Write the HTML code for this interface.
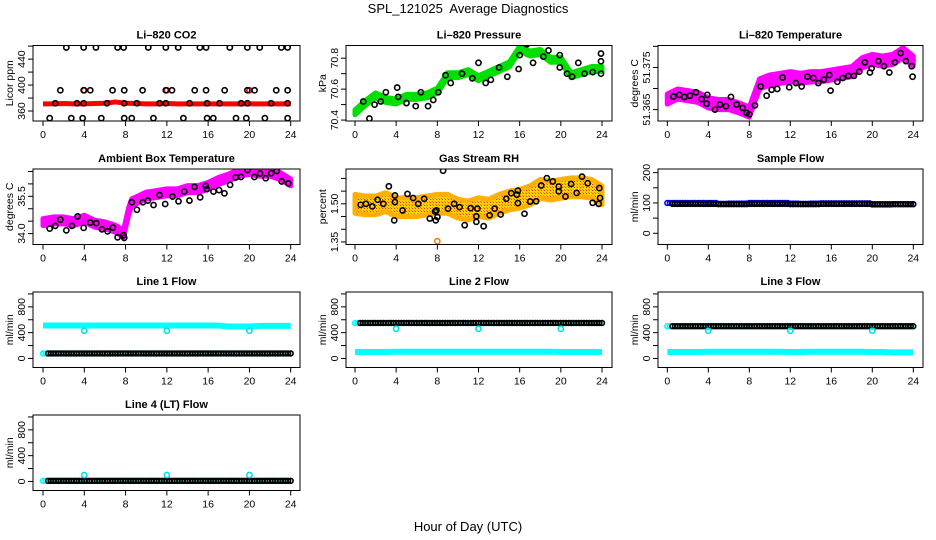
<!DOCTYPE html>
<html><head><meta charset="utf-8"><style>
html,body{margin:0;padding:0;background:#fff}
svg{display:block;font-family:"Liberation Sans",sans-serif}
</style></head><body>
<svg id="chart" width="936" height="540" viewBox="0 0 936 540" xmlns="http://www.w3.org/2000/svg">
<defs>
<pattern id="pGreen" width="3" height="3" patternUnits="userSpaceOnUse"><rect width="3" height="3" fill="#00e000"/><rect x="1" y="1" width="1" height="1" fill="#004400"/></pattern>
<pattern id="pRH" width="3" height="3" patternUnits="userSpaceOnUse"><rect width="3" height="3" fill="#ffd400"/><rect x="1" y="1" width="1" height="1" fill="#ff2a00"/><rect x="0" y="0" width="1" height="1" fill="#ff8000"/></pattern>
</defs>
<text x="468" y="13" font-size="13" text-anchor="middle" style="white-space:pre" xml:space="preserve">SPL_121025  Average Diagnostics</text>
<text x="468" y="531" font-size="13" text-anchor="middle">Hour of Day (UTC)</text>
<g id="plots"></g>
</svg>
<script>
// ---------- data ----------
const xTicks = [0,4,8,12,16,20,24];
const hours = [0,1,2,3,4,5,6,7,8,9,10,11,12,13,14,15,16,17,18,19,20,21,22,23,24];

// CO2
const co2Red = [371,371,371.5,371,371,371.5,372,374,372,371.5,371,371,371.5,371,371,371,371,371,371,371,371,371,371,371,371];
const co2TopT = [2.26,3.94,5.13,7.23,7.81,10.2,11.9,13.1,15.2,15.8,18.1,19.8,21.0,23.1,23.7];
const co2MidT = [1.68,3.94,4.58,6.74,7.87,9.65,11.9,12.5,14.7,15.8,17.6,19.8,20.5,22.6,23.7];
const co2LowT = [0.65,2.74,3.84,5.65,7.87,8.6,10.7,13.6,15.9,16.5,18.7,19.7,21.5,23.7];
const co2CenT = [1.19,3.29,3.94,6.19,7.87,9.1,11.3,11.9,14.2,15.9,17.1,19.2,19.8,22.1,23.7];
const co2Levels = [458,392,349,372];

// Pressure
const presBand = [70.45,70.51,70.56,70.53,70.52,70.55,70.55,70.56,70.59,70.69,70.69,70.71,70.67,70.70,70.73,70.76,70.86,70.83,70.84,70.79,70.79,70.69,70.71,70.73,70.73];
const presT = [0.8,1.4,1.9,2.5,3.0,4.1,4.2,5.0,5.9,6.4,7.1,7.6,8.1,8.8,9.3,10.4,11.4,12.0,12.7,13.2,14.0,14.8,15.9,16.0,16.7,17.3,18.3,18.8,19.9,19.9,20.6,21.1,21.7,22.3,23.1,23.9,23.9,23.9];
const presV = [70.52,70.41,70.50,70.52,70.58,70.61,70.55,70.51,70.49,70.58,70.49,70.53,70.58,70.69,70.64,70.70,70.67,70.77,70.64,70.66,70.74,70.68,70.73,70.82,70.89,70.77,70.81,70.85,70.82,70.74,70.70,70.68,70.77,70.70,70.71,70.83,70.78,70.70];

// Li-820 temperature
const tempBand = [51.3675,51.3687,51.3683,51.3679,51.3666,51.3662,51.3662,51.3654,51.3644,51.3711,51.3720,51.3724,51.3728,51.3724,51.3728,51.3728,51.3732,51.3736,51.3740,51.3761,51.3769,51.3765,51.3769,51.3785,51.3765];
const tempT = [0.59,1.17,1.66,2.21,2.80,3.35,3.84,3.90,4.65,5.14,5.72,6.21,6.76,7.35,7.74,8.00,8.55,9.11,9.69,10.18,10.73,11.25,11.90,12.55,13.11,13.66,14.24,14.73,15.28,15.80,15.93,16.59,17.11,17.66,18.21,18.73,19.28,19.77,19.93,20.59,21.14,21.66,22.21,22.76,23.28,23.84,23.93];
const tempV = [51.3681,51.3685,51.3680,51.3683,51.3691,51.3675,51.3664,51.3685,51.3650,51.3662,51.3658,51.3680,51.3662,51.3654,51.3642,51.3639,51.3660,51.3705,51.3683,51.3697,51.3699,51.3726,51.3703,51.3713,51.3705,51.3728,51.3725,51.3713,51.3721,51.3732,51.3695,51.3716,51.3725,51.3730,51.3730,51.3740,51.3762,51.3738,51.3748,51.3765,51.3753,51.3738,51.3762,51.3784,51.3765,51.3753,51.3728];

// Ambient box temperature
const ambBandT = [0,1,2,3,4,5,6,7,7.8,8.3,8.6,9,10,11,12,13,14,15,16,17,18,19,20,21,22,23,24];
const ambBand = [34.46,34.53,34.53,34.46,34.60,34.40,34.33,34.20,34.00,34.9,35.26,35.33,35.53,35.59,35.66,35.66,35.79,35.79,35.92,36.12,36.26,36.45,36.52,36.45,36.45,36.32,36.06];
const ambT = [0.65,1.19,1.68,2.26,2.81,3.35,3.94,4.58,5.16,5.71,6.26,6.77,7.23,7.81,7.87,8.61,9.10,9.68,10.16,10.71,11.29,11.84,12.55,13.13,13.68,14.19,14.68,15.23,15.77,15.87,16.52,17.06,17.58,18.13,18.68,19.19,19.81,20.48,21.03,21.58,22.10,22.65,23.13,23.77];
const ambV = [34.20,34.31,34.56,34.13,34.31,34.69,34.23,34.44,34.42,34.17,34.09,34.24,33.85,33.93,33.83,35.26,34.96,35.26,35.33,35.15,35.55,35.19,35.49,35.30,35.69,35.33,35.88,35.46,35.92,35.79,35.69,35.75,35.62,35.96,36.26,36.28,36.56,36.28,36.42,36.23,36.43,36.52,36.10,36.02];

// Gas stream RH
const rhBand = [1.500,1.494,1.494,1.507,1.487,1.487,1.487,1.494,1.500,1.500,1.481,1.474,1.487,1.481,1.500,1.513,1.520,1.533,1.559,1.552,1.559,1.565,1.565,1.559,1.533];
const rhT = [0.55,1.07,1.68,2.20,2.75,3.29,3.88,3.88,3.81,4.62,5.10,5.65,6.14,6.72,7.27,7.78,7.85,7.91,8.01,9.04,9.63,10.17,10.66,11.24,11.79,11.79,11.89,12.50,13.08,13.57,14.15,14.70,15.18,15.73,15.83,15.83,16.47,17.02,17.60,18.09,18.64,19.22,19.80,19.80,20.45,21.00,21.54,22.06,22.61,23.09,23.68,23.74,23.81,8.56];
const rhV = [1.496,1.500,1.490,1.516,1.500,1.569,1.533,1.507,1.435,1.474,1.539,1.523,1.500,1.520,1.442,1.470,1.435,1.474,1.448,1.481,1.500,1.487,1.416,1.483,1.451,1.429,1.481,1.412,1.455,1.481,1.458,1.520,1.542,1.536,1.552,1.503,1.461,1.509,1.510,1.572,1.601,1.588,1.568,1.549,1.529,1.578,1.543,1.607,1.581,1.504,1.500,1.562,1.523,1.630];
const rhOutT = [8.0];
const rhOutV = [1.353];

// Flows
const sampleBlue = [100,100,100,100,100,97,98,98,100,100,100,100,98,97,98,99,99,99,99,99,95,95,96,96,96];
const sampleBlack = [97,97,97,97,97,96,96,96,97,97,97,97,96,96,96,97,97,97,97,97,96,96,96,96,96];
const flowDipT = [4,12,20];
const l1Cyan = [510,510,510,510,510,510,510,510,510,510,510,510,510,510,510,510,510,510,495,495,495,505,505,505,505];
const l1Black = [78,78,78,78,78,78,78,78,78,78,78,78,78,78,78,78,78,78,78,78,78,78,78,78,78];
const l1Dip = [430,430,430];
const l2Cyan = [100,100,100,100,105,105,105,105,105,105,105,105,105,105,105,105,105,105,105,105,100,100,100,100,100];
const l2Black = [550,550,550,550,550,550,550,550,550,550,550,550,550,550,550,550,550,550,550,550,550,550,550,550,550];
const l2Dip = [460,460,460];
const l3Cyan = [100,100,100,100,105,105,105,105,105,105,105,105,100,100,105,105,105,105,105,105,100,100,95,95,95];
const l3Black = [500,500,500,500,500,500,500,500,500,500,500,500,500,500,500,500,500,500,500,500,500,500,500,500,500];
const l3Dip = [430,430,430];
const l4Black = [10,10,10,10,10,10,10,10,10,10,10,10,10,10,10,10,10,10,10,10,10,10,10,10,10];
const l4Dip = [100,100,100];

// ---------- drawing ----------
const NS = 'http://www.w3.org/2000/svg';
const root = document.getElementById('plots');
const cols = [{l:33,r:300,x0:43,x24:290.7},{l:346,r:612,x0:355,x24:602},{l:658,r:923,x0:667.3,x24:913.3}];
const rows = [45.5,169,292,415];
const H = 75.5;

function mk(tag, attrs, parent){
  const e = document.createElementNS(NS, tag);
  for (const k in attrs) e.setAttribute(k, attrs[k]);
  (parent||root).appendChild(e);
  return e;
}

function panel(c, r, title, ylab, ylim, ticks, labels, dec, name){
  const col = cols[c], top = rows[r], bot = top + H;
  const g = mk('g', {});
  
  
  const sx = h => col.x0 + (col.x24 - col.x0) * h / 24;
  const sy = v => bot - (v - ylim[0]) / (ylim[1] - ylim[0]) * H;
  const clipId = 'clip' + c + r;
  const cp = mk('clipPath', {id: clipId}, g);
  mk('rect', {x: col.l, y: top, width: col.r - col.l, height: H}, cp);
  const plot = mk('g', {'clip-path': 'url(#' + clipId + ')'}, g);
  
  
  const box = mk('rect', {x: col.l, y: top, width: col.r - col.l, height: H, fill: 'none', stroke: '#000', 'stroke-width': 1}, g);
  
  
  const t = mk('text', {x: (col.l + col.r) / 2, y: top - 7, 'font-size': 11, 'font-weight': 'bold', 'text-anchor': 'middle'}, g);
  t.textContent = title;
  
  
  const yl = mk('text', {transform: 'translate(' + (col.l - 20) + ',' + (top + H / 2) + ') rotate(-90)', 'font-size': 10.5, 'text-anchor': 'middle'}, g);
  yl.textContent = ylab;
  
  
  ticks.forEach(v => {
    const y = sy(v);
    mk('line', {x1: col.l - 5, x2: col.l, y1: y, y2: y, stroke: '#000'}, g);
    if (labels.includes(v)) {
      const tl = mk('text', {transform: 'translate(' + (col.l - 8) + ',' + y + ') rotate(-90)', 'font-size': 10.5, 'text-anchor': 'middle'}, g);
      tl.textContent = v.toFixed(dec);
      
      
    }
  });
  xTicks.forEach(h => {
    const x = sx(h);
    mk('line', {x1: x, x2: x, y1: bot, y2: bot + 5, stroke: '#000'}, g);
    const tl = mk('text', {x: x, y: bot + 17, 'font-size': 10.5, 'text-anchor': 'middle'}, g);
    tl.textContent = String(h);
    
    
  });
  return {g: plot, sx, sy};
}

function pts(p, T, V, color, name, r, sw){
  T.forEach((t, i) => {
    const e = mk('circle', {cx: p.sx(t), cy: p.sy(V[i]), r: r || 2.6, fill: 'none', stroke: color, 'stroke-width': sw || 1.6}, p.g);
    
    
  });
}

function band(p, T, V, hw, fill, edge, name){
  let d = '';
  T.forEach((t, i) => d += (i ? 'L' : 'M') + p.sx(t) + ' ' + p.sy(V[i] + hw));
  for (let i = T.length - 1; i >= 0; i--) d += 'L' + p.sx(T[i]) + ' ' + p.sy(V[i] - hw);
  const e = mk('path', {d: d + 'Z', fill: fill, stroke: edge, 'stroke-width': 5, 'stroke-linejoin': 'round'}, p.g);
  
  
}

function dense(p, V, start, color, name){
  V.forEach((v, h) => {
    [0, 0.25, 0.5, 0.75].forEach(q => {
      const t = h + q;
      if (t < start || t > 24) return;
      const e = mk('circle', {cx: p.sx(t), cy: p.sy(v), r: 2.4, fill: 'none', stroke: color, 'stroke-width': 1.6}, p.g);
      
      
    });
  });
}

function thickLine(p, T, V, color, w, name){
  const d = T.map((t, i) => (i ? 'L' : 'M') + p.sx(t) + ' ' + p.sy(V[i])).join('');
  const e = mk('path', {d: d, fill: 'none', stroke: color, 'stroke-width': w, 'stroke-linejoin': 'round'}, p.g);
  
  
}

// CO2
let p = panel(0, 0, 'Li\u2013820 CO2', 'Licor ppm', [344.6, 461], [360,380,400,420,440,460], [360,400,440], 0, 'co2');
thickLine(p, hours, co2Red, '#ff0000', 5, 'co2-red-series');
pts(p, flowDipT, [392,392,392], '#ff0000', 'co2-red-point');
[co2TopT, co2MidT, co2LowT, co2CenT].forEach((T, k) => pts(p, T, T.map(() => co2Levels[k]), '#000', 'co2-black-point'));

// Pressure
p = panel(1, 0, 'Li\u2013820 Pressure', 'kPa', [70.394, 70.882], [70.4,70.5,70.6,70.7,70.8], [70.4,70.6,70.8], 1, 'pressure');
band(p, hours, presBand, 0.016, 'url(#pGreen)', '#00e000', 'pressure-green-series');
pts(p, presT, presV, '#000', 'pressure-black-point');

// Li-820 temperature
p = panel(2, 0, 'Li\u2013820 Temperature', 'degrees C', [51.3623, 51.3802], [51.365,51.37,51.375,51.38], [51.365,51.375], 3, 'li820-temp');
band(p, hours, tempBand, 0.0012, '#ff00ff', '#ff00ff', 'li820-temp-magenta-series');
pts(p, tempT, tempV, '#000', 'li820-temp-black-point');

// Ambient
p = panel(0, 1, 'Ambient Box Temperature', 'degrees C', [33.56, 36.6], [34,34.5,35,35.5,36,36.5], [34,35.5], 1, 'ambient-temp');
band(p, ambBandT, ambBand, 0.14, '#ff00ff', '#ff00ff', 'ambient-magenta-series');
pts(p, ambT, ambV, '#000', 'ambient-black-point');

// RH
p = panel(1, 1, 'Gas Stream RH', 'percent', [1.34, 1.637], [1.35,1.4,1.45,1.5,1.55,1.6], [1.35,1.5], 2, 'gas-rh');
band(p, hours, rhBand, 0.037, 'url(#pRH)', '#ffb000', 'rh-orange-series');
pts(p, rhOutT, rhOutV, '#ff8000', 'rh-orange-point');
pts(p, rhT, rhV, '#000', 'rh-black-point');

// Sample flow
p = panel(2, 1, 'Sample Flow', 'ml/min', [-37, 212], [0,50,100,150,200], [0,100,200], 0, 'sample-flow');
dense(p, sampleBlue, 0, '#0000ff', 'sample-flow-blue-point');
dense(p, sampleBlack, 0.5, '#000', 'sample-flow-black-point');

const fTicks = [0,200,400,600,800,1000], fLab = [0,400,800], fLim = [-140, 1030];
p = panel(0, 2, 'Line 1 Flow', 'ml/min', fLim, fTicks, fLab, 0, 'line1-flow');
thickLine(p, hours, l1Cyan, '#00ffff', 6, 'line1-cyan-high');
dense(p, l1Black, 0, '#00ffff', 'line1-cyan-low');
dense(p, l1Black, 0.5, '#000', 'line1-black-point');
pts(p, flowDipT, l1Dip, '#00e0e0', 'line1-cyan-dip');

p = panel(1, 2, 'Line 2 Flow', 'ml/min', fLim, fTicks, fLab, 0, 'line2-flow');
thickLine(p, hours, l2Cyan, '#00ffff', 6, 'line2-cyan-low');
dense(p, l2Black, 0, '#00ffff', 'line2-cyan-high');
dense(p, l2Black, 0.5, '#000', 'line2-black-point');
pts(p, flowDipT, l2Dip, '#00e0e0', 'line2-cyan-dip');

p = panel(2, 2, 'Line 3 Flow', 'ml/min', fLim, fTicks, fLab, 0, 'line3-flow');
thickLine(p, hours, l3Cyan, '#00ffff', 6, 'line3-cyan-low');
dense(p, l3Black, 0, '#00ffff', 'line3-cyan-high');
dense(p, l3Black, 0.5, '#000', 'line3-black-point');
pts(p, flowDipT, l3Dip, '#00e0e0', 'line3-cyan-dip');

p = panel(0, 3, 'Line 4 (LT) Flow', 'ml/min', fLim, fTicks, fLab, 0, 'line4-flow');
dense(p, l4Black, 0, '#00ffff', 'line4-cyan-point');
dense(p, l4Black, 0.5, '#000', 'line4-black-point');
pts(p, flowDipT, l4Dip, '#00e0e0', 'line4-cyan-spike');
</script>
</body></html>
